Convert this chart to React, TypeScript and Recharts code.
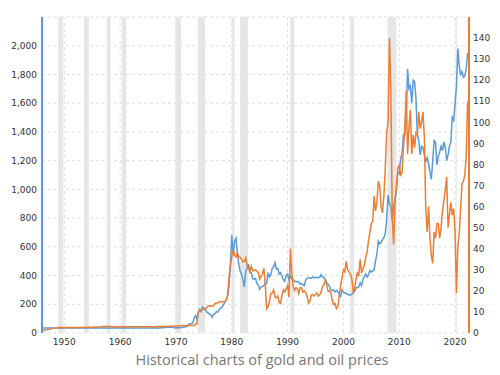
import React from 'react';
import { CartesianGrid, ComposedChart, Line, ReferenceArea, XAxis, YAxis } from 'recharts';

const GOLD_COLOR = '#5b9bd5';
const OIL_COLOR = '#ed7d31';

// annual points 1946-1969, then quarterly from 1970
const earlyYears = [
  1946, 1947, 1948, 1949, 1950, 1951, 1952, 1953, 1954, 1955, 1956, 1957,
  1958, 1959, 1960, 1961, 1962, 1963, 1964, 1965, 1966, 1967, 1968, 1969,
];
const earlyGold = [
  35, 35, 35, 35, 35, 35, 35, 35, 35, 35, 35, 35,
  35, 35, 35, 35, 35, 35, 35, 35, 35, 35, 39, 41,
];
const earlyOil = [
  1.2, 1.6, 2.2, 2.57, 2.57, 2.57, 2.57, 2.6, 2.78, 2.78, 2.79, 3.07,
  3.07, 2.97, 2.97, 2.97, 2.97, 2.97, 2.97, 2.97, 2.97, 3.07, 3.07, 3.2,
];

const quarterlyStart = 1970;
const goldQuarterly = [
  35, 36, 36, 37, // 1970
  38, 40, 42, 43,
  47, 56, 66, 64,
  70, 100, 120, 100,
  140, 165, 150, 180,
  175, 167, 145, 140, // 1975
  130, 126, 110, 130,
  135, 147, 146, 162,
  175, 180, 195, 215,
  230, 260, 330, 470,
  680, 540, 640, 660, // 1980
  560, 480, 430, 410,
  370, 320, 430, 450,
  480, 420, 420, 380,
  375, 380, 345, 335,
  305, 320, 325, 330, // 1985
  345, 345, 420, 390,
  405, 450, 460, 490,
  445, 450, 410, 420,
  395, 370, 360, 400,
  410, 370, 395, 380, // 1990
  370, 360, 355, 360,
  355, 340, 345, 335,
  330, 370, 380, 385,
  385, 380, 390, 385,
  385, 390, 385, 387, // 1995
  405, 390, 385, 375,
  350, 340, 325, 300,
  295, 300, 285, 295,
  287, 270, 255, 300,
  285, 280, 275, 270, // 2000
  265, 265, 270, 277,
  290, 315, 315, 320,
  350, 330, 370, 395,
  410, 390, 405, 435,
  425, 430, 440, 500, // 2005
  550, 640, 620, 630,
  650, 665, 690, 790,
  960, 900, 880, 780,
  880, 930, 1000, 1120,
  1110, 1210, 1250, 1380, // 2010
  1380, 1510, 1840, 1700,
  1720, 1600, 1760, 1750,
  1630, 1380, 1340, 1240,
  1300, 1290, 1240, 1190,
  1220, 1180, 1120, 1070, // 2015
  1200, 1340, 1330, 1170,
  1230, 1260, 1300, 1270,
  1330, 1290, 1200, 1240,
  1300, 1330, 1500, 1480,
  1590, 1720, 1980, 1860, // 2020
  1800, 1820, 1780, 1790,
  1840, 1950,
];
const oilQuarterly = [
  3.35, 3.35, 3.35, 3.35, // 1970
  3.56, 3.56, 3.56, 3.56,
  3.56, 3.56, 3.56, 3.56,
  3.56, 3.56, 4.3, 4.3,
  10.1, 10.8, 11.0, 11.2,
  11.2, 11.4, 12.0, 12.8, // 1975
  12.9, 12.8, 12.8, 12.9,
  14.0, 14.2, 14.3, 14.8,
  14.85, 14.85, 14.85, 14.85,
  15.5, 18.0, 26.0, 32.5,
  36.0, 39.5, 37.0, 36.0, // 1980
  38.0, 36.0, 36.0, 35.0,
  33.8, 34.0, 35.7, 31.7,
  31.0, 29.0, 31.7, 29.5,
  29.7, 30.0, 29.3, 28.8,
  25.6, 27.0, 28.0, 30.8, // 1985
  22.9, 11.5, 12.5, 15.0,
  18.7, 19.0, 20.5, 17.0,
  16.7, 17.6, 14.5, 14.0,
  18.0, 20.5, 19.5, 21.0,
  22.5, 17.0, 40.0, 28.0, // 1990
  22.0, 20.3, 21.5, 21.0,
  18.8, 21.5, 21.5, 19.5,
  20.0, 19.0, 17.5, 14.2,
  15.0, 18.0, 18.3, 17.5,
  18.4, 19.0, 17.5, 18.0, // 1995
  19.5, 22.0, 23.0, 25.0,
  23.0, 19.8, 20.0, 19.0,
  15.5, 13.5, 14.0, 11.5,
  12.5, 17.5, 22.5, 26.0,
  30.0, 29.0, 34.0, 30.0, // 2000
  29.0, 28.0, 26.0, 19.5,
  21.0, 25.5, 28.5, 27.0,
  35.0, 28.5, 30.5, 32.0,
  36.0, 38.5, 44.0, 48.0,
  52.0, 53.0, 65.0, 58.0, // 2005
  62.0, 72.0, 70.0, 60.0,
  57.0, 65.0, 78.0, 95.0,
  100.0, 140.0, 115.0, 55.0,
  42.0, 62.0, 70.0, 78.0,
  80.0, 75.0, 76.0, 88.0, // 2010
  97.0, 115.0, 85.0, 98.0,
  106.0, 85.0, 94.0, 88.0,
  95.0, 94.0, 105.0, 97.0,
  100.0, 105.0, 93.0, 59.0,
  48.0, 60.0, 45.0, 37.0, // 2015
  33.0, 48.0, 45.0, 52.0,
  52.0, 45.0, 50.0, 58.0,
  63.0, 68.0, 74.0, 50.0,
  56.0, 62.0, 56.0, 59.0,
  48.0, 19.0, 41.0, 47.0, // 2020
  59.0, 71.0, 72.0, 75.0,
  84.0, 110.0,
];

const recessions = [
  [1948.9, 1949.8], [1953.5, 1954.4], [1957.6, 1958.3], [1960.3, 1961.1],
  [1969.9, 1970.9], [1973.9, 1975.2], [1980.0, 1980.5], [1981.5, 1982.9],
  [1990.5, 1991.2], [2001.2, 2001.9], [2007.9, 2009.5], [2020.1, 2020.3],
];

const decadeTicks = [1950, 1960, 1970, 1980, 1990, 2000, 2010, 2020];
const goldTicks = [0, 200, 400, 600, 800, 1000, 1200, 1400, 1600, 1800, 2000, 2200];
const oilTicks = [0, 10, 20, 30, 40, 50, 60, 70, 80, 90, 100, 110, 120, 130, 140];

const chartData = [
  ...earlyYears.map((year, i) => ({ year, gold: earlyGold[i], oil: earlyOil[i] })),
  ...goldQuarterly.map((gold, i) => ({ year: quarterlyStart + i * 0.25, gold, oil: oilQuarterly[i] })),
];

const tickStyle = { fill: '#333', fontSize: 9, fontFamily: 'DejaVu Sans' };

export default function App() {
  return (
    <div style={{ position: 'absolute', left: 0, top: 0, width: 500, height: 375, background: '#fff' }}>
      <ComposedChart
        width={500}
        height={375}
        data={chartData}
        margin={{ top: 17, right: 0, bottom: 0, left: 0 }}
      >
        {recessions.map(([x1, x2]) => (
          <ReferenceArea
            key={x1}
            x1={x1}
            x2={x2}
            yAxisId="left"
            fill="#e6e6e6"
            fillOpacity={1}
            stroke="none"
          />
        ))}
        <CartesianGrid yAxisId="left" strokeDasharray="3 3" stroke="#dedede" />
        <XAxis
          dataKey="year"
          type="number"
          domain={[1946, 2022.5]}
          ticks={decadeTicks}
          axisLine={false}
          tickLine={false}
          tickSize={4}
          tickMargin={2}
          height={42}
          tick={tickStyle}
          allowDataOverflow
        />
        <YAxis
          yAxisId="left"
          orientation="left"
          domain={[0, 2200]}
          ticks={goldTicks}
          tickFormatter={(v: number) => (v === 2200 ? '' : v.toLocaleString('en-US'))}
          width={42}
          tickLine={false}
          tickSize={3}
          tickMargin={2}
          axisLine={{ stroke: GOLD_COLOR, strokeWidth: 2 }}
          tick={tickStyle}
        />
        <YAxis
          yAxisId="right"
          orientation="right"
          domain={[0, 150]}
          ticks={oilTicks}
          width={31}
          tickLine={false}
          tickSize={2}
          tickMargin={2}
          axisLine={{ stroke: OIL_COLOR, strokeWidth: 2 }}
          tick={tickStyle}
        />
        <Line
          yAxisId="left"
          dataKey="gold"
          type="linear"
          stroke={GOLD_COLOR}
          strokeWidth={1.5}
          dot={false}
          isAnimationActive={false}
        />
        <Line
          yAxisId="right"
          dataKey="oil"
          type="linear"
          stroke={OIL_COLOR}
          strokeWidth={1.5}
          dot={false}
          isAnimationActive={false}
        />
      </ComposedChart>
      <div
        style={{
          position: 'absolute',
          left: 0,
          width: 524,
          top: 350,
          textAlign: 'center',
          fontFamily: "'Open Sans', sans-serif",
          fontSize: 14.5,
          color: '#777',
        }}
      >
        Historical charts of gold and oil prices
      </div>
    </div>
  );
}
